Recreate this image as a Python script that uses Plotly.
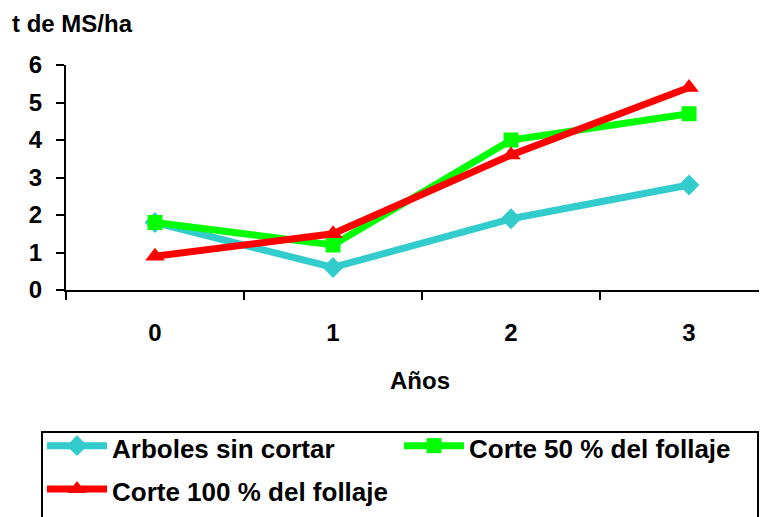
import plotly.graph_objects as go

years = ["0", "1", "2", "3"]
arboles_sin_cortar = [1.8, 0.6, 1.9, 2.8]
corte_50 = [1.8, 1.2, 4.0, 4.7]
corte_100 = [0.9, 1.5, 3.6, 5.4]
y_ticks = [0, 1, 2, 3, 4, 5, 6]

FONT = "Liberation Sans, Arial, sans-serif"
W, H = 759, 509  # page body adds an 8px offset
L, T, B = 58, 57, 227
PW, PH = W - L, H - T - B


def px(xp):
    return (xp - 8 - L) / PW


def py(yp):
    return (H - B - (yp - 8)) / PH


fig = go.Figure()
series = [
    ("Arboles sin cortar", arboles_sin_cortar, "#33CCCC", "diamond", 16),
    ("Corte 50 % del follaje", corte_50, "#00FF00", "square", 15),
    ("Corte 100 % del follaje", corte_100, "#FF0000", "triangle-up", 17),
]
for name, vals, color, sym, ms in series:
    fig.add_trace(go.Scatter(
        x=years, y=vals, mode="lines+markers",
        name='<span style="font-size:26px">' + name + '</span>',
        line=dict(color=color, width=7),
        marker=dict(symbol=sym, size=ms, color=color),
        cliponaxis=False,
    ))

fig.update_layout(
    width=W, height=H,
    margin=dict(l=L, r=0, t=T, b=B),
    plot_bgcolor="white", paper_bgcolor="white",
    font=dict(family=FONT, size=24, color="black", weight="bold"),
    title=dict(text="t de MS/ha", x=4/W, xanchor="left", xref="container",
               y=1-16/H, yanchor="middle", yref="container",
               font=dict(family=FONT, size=24, color="black", weight="bold")),
    xaxis=dict(
        type="category", range=[-0.5, 3.438], showgrid=False,
        showline=True, linecolor="black", linewidth=2,
        ticks="outside", tickson="boundaries", ticklen=8, tickwidth=2, tickcolor="black",
        ticklabelstandoff=20,
        tickfont=dict(family=FONT, size=24, color="black", weight="bold"),
    ),
    yaxis=dict(
        range=[0, 6], tickvals=y_ticks, showgrid=False, zeroline=False,
        showline=True, linecolor="black", linewidth=2,
        ticks="outside", ticklen=8, tickwidth=2, tickcolor="black",
        ticklabelstandoff=9,
        tickfont=dict(family=FONT, size=24, color="black", weight="bold"),
    ),
    legend=dict(
        orientation="h", xref="paper", yref="paper",
        x=px(42), xanchor="left", y=py(419), yanchor="top",
        borderwidth=0, bgcolor="rgba(0,0,0,0)",
        itemwidth=60, entrywidth=282, entrywidthmode="pixels",
        font=dict(family=FONT, size=31, color="black", weight="bold"),
    ),
    shapes=[dict(type="rect", xref="paper", yref="paper",
                 x0=px(42), x1=px(758), y0=py(432), y1=py(540),
                 line=dict(color="black", width=2), fillcolor="rgba(0,0,0,0)",
                 layer="below")],
    annotations=[dict(text="Años", xref="paper", yref="paper",
                      x=px(420), y=py(380), showarrow=False,
                      xanchor="center", yanchor="middle",
                      font=dict(family=FONT, size=24, color="black", weight="bold"))],
)

fig.write_html("out.html")
